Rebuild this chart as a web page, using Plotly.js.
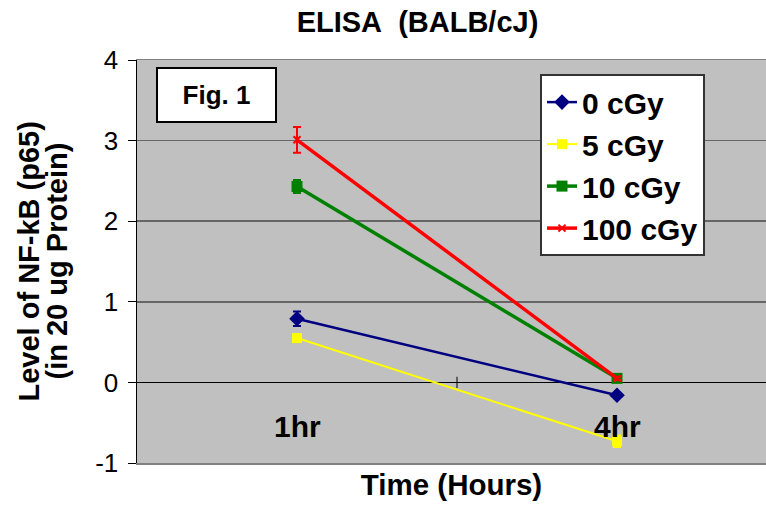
<!DOCTYPE html>
<html>
<head>
<meta charset="utf-8">
<script src="https://cdn.plot.ly/plotly-3.0.1.min.js"></script>
<style>html,body{margin:0;padding:0;background:#fff;overflow:hidden;}</style>
</head>
<body>
<div id="chart" style="width:766px;height:508px;"></div>
<script>
var categories = ["1hr", "4hr"];
var seriesNames = ["0 cGy", "5 cGy", "10 cGy", "100 cGy"];
var values0 = [0.79, -0.16];
var values5 = [0.55, -0.73];
var values10 = [2.43, 0.05];
var values100 = [3.01, 0.05];
var errors0 = [0.09, 0.02];
var errors5 = [0.03, 0.07];
var errors10 = [0.08, 0.02];
var errors100 = [0.16, 0.02];
var yTicks = [-1, 0, 1, 2, 3, 4];
var yTitleLines = ["Level of NF-kB (p65)", "(in 20 ug Protein)"];

var FONT = "Liberation Sans, Arial, sans-serif";
var xIdx = categories.map(function(c, i){ return i; });

function mk(name, y, err, color, lw, symbol, msize, mline) {
  return {
    type: "scatter", mode: "lines+markers", name: name,
    x: xIdx, y: y,
    line: {color: color, width: lw},
    marker: {symbol: symbol, size: msize, color: color, line: {color: color, width: mline}},
    error_y: {type: "data", array: err, visible: true, color: color, thickness: 2, width: 4}
  };
}

var traces = [
  mk(seriesNames[0], values0, errors0, "#000080", 2.5, "diamond", 12, 0),
  mk(seriesNames[1], values5, errors5, "#FFFF00", 2, "square", 10, 0),
  mk(seriesNames[2], values10, errors10, "#008000", 3.5, "square", 11, 0),
  mk(seriesNames[3], values100, errors100, "#FF0000", 3.5, "x-thin", 7, 2)
];

var catAnnots = categories.map(function(c, i){
  return {x: i, y: -0.55, xref: "x", yref: "y", text: "<b>" + c + "</b>", showarrow: false,
          font: {family: FONT, size: 30, color: "#000"}, xanchor: "center", yanchor: "middle"};
});

var yTitleX = [28, 56];
var yTitleAnnots = yTitleLines.map(function(t, i){
  return {xref: "paper", yref: "paper", x: (yTitleX[i] - 137) / 629, y: 0.5, xanchor: "center", yanchor: "middle",
          textangle: -90, showarrow: false, text: "<b>" + t + "</b>",
          font: {family: FONT, size: 29, color: "#000"}};
});

var layout = {
  width: 766, height: 508,
  margin: {l: 137, r: 0, t: 60, b: 45, pad: 0},
  paper_bgcolor: "#ffffff",
  plot_bgcolor: "#C0C0C0",
  font: {family: FONT, color: "#000"},
  title: {text: "<b>ELISA\u00a0\u00a0(BALB/cJ)</b>", font: {family: FONT, size: 29, color: "#000"},
          xref: "container", yref: "container", x: 0.545, xanchor: "center", y: 0.957, yanchor: "middle"},
  xaxis: {
    range: [-0.5, 1.4656], showgrid: false, zeroline: false, showticklabels: false, ticks: "",
    showline: true, linecolor: "#808080", linewidth: 1.5, mirror: true, fixedrange: true,
    title: {text: "<b>Time (Hours)</b>", font: {family: FONT, size: 29.5, color: "#000"}, standoff: 11}
  },
  yaxis: {
    range: [-1, 4], tickvals: yTicks, ticktext: yTicks.map(String),
    showgrid: true, gridcolor: "#666666", gridwidth: 1.5,
    zeroline: true, zerolinecolor: "#000000", zerolinewidth: 1.5,
    showline: true, linecolor: "#000000", linewidth: 1.5,
    ticks: "outside", ticklen: 8, tickwidth: 1, tickcolor: "#000",
    tickfont: {family: FONT, size: 26, color: "#000"}, ticklabelstandoff: 4
  },
  showlegend: true,
  legend: {
    x: 0.6407, y: 0.965, xanchor: "left", yanchor: "top",
    bgcolor: "#ffffff", bordercolor: "#333333", borderwidth: 2,
    font: {family: FONT, size: 30, color: "#000", weight: "bold"},
    itemwidth: 30, traceorder: "normal"
  },
  shapes: [
    {type: "line", xref: "x", yref: "y", x0: 0.5, x1: 0.5, y0: -0.07, y1: 0.07,
     line: {color: "#000", width: 1}}
  ],
  annotations: catAnnots.concat(yTitleAnnots).concat([
    {xref: "paper", yref: "paper", x: 0.1264, y: 0.913, xanchor: "center", yanchor: "middle",
     showarrow: false, text: "<b>Fig. 1</b>", font: {family: FONT, size: 26, color: "#000"},
     bgcolor: "#ffffff", bordercolor: "#000000", borderwidth: 2, borderpad: 1, width: 115, height: 50}
  ])
};

Plotly.newPlot("chart", traces, layout, {displayModeBar: false, staticPlot: true});
</script>
</body>
</html>
